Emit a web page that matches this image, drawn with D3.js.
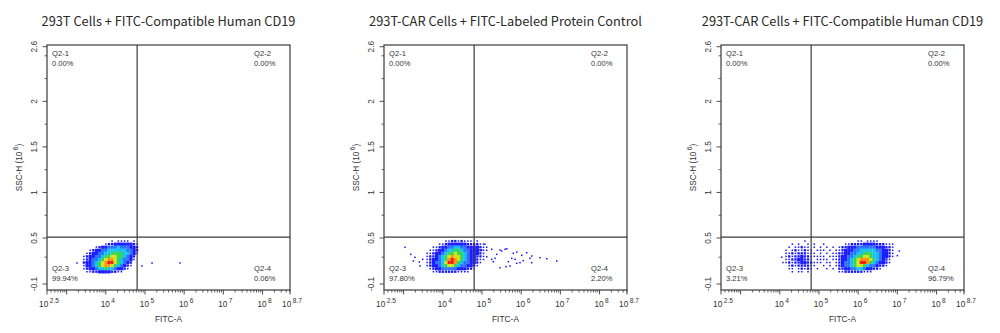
<!DOCTYPE html>
<html>
<head>
<meta charset="utf-8">
<script src="https://cdn.jsdelivr.net/npm/d3@7"></script>
<style>
  body { margin: 0; background: #fff; }
  svg { display: block; }
</style>
</head>
<body>
<svg id="chart" width="1000" height="333"></svg>
<script>
// ---- Sample titles and quadrant statistics ----
const panelTitles = [
  "293T Cells + FITC-Compatible Human CD19",
  "293T-CAR Cells + FITC-Labeled Protein Control",
  "293T-CAR Cells + FITC-Compatible Human CD19"
];
const quadNames = ["Q2-1", "Q2-2", "Q2-3", "Q2-4"];
const quadPercents = [
  ["0.00%", "0.00%", "99.94%", "0.06%"],
  ["0.00%", "0.00%", "97.80%", "2.20%"],
  ["0.00%", "0.00%", "3.21%", "96.79%"]
];

// ---- Axes ----
const xDomainExp = [2.5, 8.7];               // FITC-A, log10
const xTickExps = [2.5, 4, 5, 6, 7, 8, 8.7]; // labelled decades
const xUnlabelledExps = [3];
const yDomain = [-0.1, 0.5, 2.6];            // SSC-H (10^6)
const yTicks = [-0.1, 0.5, 1, 1.5, 2, 2.6];
const yMinorTicks = [0.25, 0.75, 1.25, 1.75, 2.25, 2.5];

// ---- Quadrant gate ----
const gateLogFITC = 4.8;
const gateSSC = 0.51;

// ---- Event density, binned: each row is an SSC bin (top to bottom),
//      each character a FITC bin (left to right), value = density level 0..9 ----
const binLogWidth = 0.08;
const binSSCHeight = 0.04;
const binOrigins = [ // [log10 FITC of first column, SSC at top of first row]
  [3.40, 0.48],
  [3.56, 0.48],
  [4.12, 0.48]
];
const density1 = [
  "000000000101111010",
  "000000012233333321",
  "000012334445444332",
  "001233445555554432",
  "012334455666655431",
  "123344566776654320",
  "123445678876544310",
  "233456789976543200",
  "133456788765432100",
  "123345565543321000",
  "011223333221100000"
];
const density2 = [
  "00000011221211101000",
  "00001123333332222110",
  "00112334455443333211",
  "01123345566544333211",
  "11233456676654333210",
  "12234567877654332210",
  "12334568987654332110",
  "12344579986544332100",
  "12334567765443321000",
  "01233444443332210000",
  "00112222221111000000"
];
const density3 = [
  "000000100000000000000001101111000000",
  "001010010100100000011222233332221110",
  "010112110101010101223334444443332210",
  "101211211011101011233344555554433210",
  "112122211101010112233445566655433210",
  "121223221111101112334456677655433210",
  "112233221011110112334567888765432100",
  "121223322111011012344567998654332100",
  "012122221100101012344567765443221000",
  "011012121010010102233445543322100000",
  "001011010000000001122222211100000000"
];
const densities = [density1, density2, density3];

// ---- Isolated events outside the binned populations: [log10 FITC, SSC] ----
const sparse1 = [
  [3.265, 0.174], [4.924, 0.135], [5.18, 0.174], [5.894, 0.174]
];
const sparse2 = [
  [3.036, 0.379], [3.181, 0.287], [3.291, 0.248], [3.401, 0.187], [3.487, 0.222],
  [3.248, 0.200], [3.419, 0.135],
  [5.077, 0.418], [5.248, 0.353], [5.503, 0.330], [5.631, 0.360], [5.886, 0.317],
  [6.014, 0.274], [6.141, 0.308], [6.269, 0.265], [6.481, 0.243], [6.652, 0.230],
  [6.907, 0.200], [5.460, 0.113], [5.715, 0.135], [5.970, 0.178], [5.248, 0.222],
  [5.376, 0.287], [5.121, 0.256], [5.843, 0.222], [6.269, 0.178], [4.993, 0.343],
  [5.332, 0.235], [5.460, 0.343], [5.588, 0.353], [5.672, 0.191], [5.759, 0.235],
  [5.799, 0.300], [5.886, 0.170], [6.054, 0.204], [6.225, 0.235], [5.289, 0.191],
  [5.613, 0.126]
];
const sparse3 = [
  [4.05, 0.25], [4.08, 0.18], [7.05, 0.33], [7.00, 0.27]
];
const sparseEvents = [sparse1, sparse2, sparse3];

// ---- Layout ----
const svg = d3.select("#chart");
const panelLefts = [47, 384, 721];
const plotTop = 45, plotW = 243, plotH = 245;
const axisFont = "'Liberation Sans', Arial, sans-serif";
const frameColor = "#3a3a3a";

const levelColors = {
  3: "#1c1cff", 4: "#2a72ff", 5: "#12c4f2", 6: "#36d45a",
  7: "#cfe61c", 8: "#ff9412", 9: "#ee2010"
};
const dotColor = "#1414ff";

const x = d3.scaleLog().domain(xDomainExp.map(e => Math.pow(10, e))).range([0, plotW]);
const y = d3.scaleLinear().domain(yDomain).range([239, 193, 1.7]);

panelTitles.forEach((title, p) => {
  const g = svg.append("g").attr("transform", `translate(${panelLefts[p]},${plotTop})`);

  // title
  svg.append("text")
    .attr("x", panelLefts[p] + plotW / 2)
    .attr("y", 26)
    .attr("text-anchor", "middle")
    .attr("font-family", "'Noto Sans CJK SC', 'Noto Sans', sans-serif")
    .attr("font-size", 12.8)
    .attr("fill", "#2a2a2a")
    .text(title);

  // binned events
  const [lx0, sTop] = binOrigins[p];
  const cells = [];
  densities[p].forEach((row, j) => {
    row.split("").forEach((ch, i) => {
      const lv = +ch;
      if (lv > 0) cells.push({
        lv,
        x0: x(Math.pow(10, lx0 + binLogWidth * i)),
        x1: x(Math.pow(10, lx0 + binLogWidth * (i + 1))),
        y0: y(sTop - binSSCHeight * j),
        y1: y(sTop - binSSCHeight * (j + 1))
      });
    });
  });
  const plotArea = g.append("g");
  // level 3+: bin filled with the colour of its density level
  plotArea.selectAll("rect.cell")
    .data(cells.filter(c => c.lv >= 3))
    .join("rect")
    .attr("class", "cell")
    .attr("x", c => c.x0).attr("y", c => c.y0)
    .attr("width", c => c.x1 - c.x0 + 0.15)
    .attr("height", c => c.y1 - c.y0 + 0.15)
    .attr("fill", c => levelColors[c.lv]);
  // levels 1-2: sparse bins drawn as single event dots
  plotArea.selectAll("rect.sparse-cell")
    .data(cells.filter(c => c.lv < 3))
    .join("rect")
    .attr("class", "sparse-cell")
    .attr("x", c => (c.x0 + c.x1) / 2 - (c.lv === 1 ? 0.75 : 1.15))
    .attr("y", c => (c.y0 + c.y1) / 2 - (c.lv === 1 ? 0.75 : 1.15))
    .attr("width", c => c.lv === 1 ? 1.5 : 2.3)
    .attr("height", c => c.lv === 1 ? 1.5 : 2.3)
    .attr("fill", dotColor);
  plotArea.selectAll("rect.event")
    .data(sparseEvents[p])
    .join("rect")
    .attr("class", "event")
    .attr("x", d => x(Math.pow(10, d[0])) - 0.75)
    .attr("y", d => y(d[1]) - 0.75)
    .attr("width", 1.5).attr("height", 1.5)
    .attr("fill", dotColor);

  // quadrant gate
  const gx = x(Math.pow(10, gateLogFITC));
  const gy = y(gateSSC);
  g.append("line").attr("x1", gx).attr("x2", gx).attr("y1", 0).attr("y2", plotH)
    .attr("stroke", frameColor).attr("stroke-width", 1.2);
  g.append("line").attr("x1", 0).attr("x2", plotW).attr("y1", gy).attr("y2", gy)
    .attr("stroke", frameColor).attr("stroke-width", 1.2);

  // frame
  g.append("rect").attr("x", 0).attr("y", 0).attr("width", plotW).attr("height", plotH)
    .attr("fill", "none").attr("stroke", frameColor).attr("stroke-width", 1.2);

  // quadrant labels
  const qPos = [
    { x: 5, y: 11 },
    { x: plotW - 36, y: 11 },
    { x: 5, y: 226 },
    { x: plotW - 36, y: 226 }
  ];
  qPos.forEach((q, k) => {
    const t = g.append("text")
      .attr("x", q.x).attr("y", q.y)
      .attr("font-family", axisFont).attr("font-size", 7.6).attr("fill", "#333");
    t.append("tspan").attr("x", q.x).text(quadNames[k]);
    t.append("tspan").attr("x", q.x).attr("dy", 9.5).text(quadPercents[p][k]);
  });

  // x axis ticks (log minor ticks + decades)
  const xAxis = g.append("g").attr("transform", `translate(0,${plotH})`);
  const minorVals = [];
  for (let e = 2; e <= 8; e++) {
    for (let m = 2; m <= 9; m++) {
      const v = m * Math.pow(10, e);
      if (v > x.domain()[0] && v < x.domain()[1]) minorVals.push(v);
    }
  }
  xAxis.selectAll("line.minor").data(minorVals).join("line")
    .attr("x1", d => x(d)).attr("x2", d => x(d)).attr("y1", 0).attr("y2", 2.5)
    .attr("stroke", frameColor).attr("stroke-width", 0.8);
  xAxis.selectAll("line.major").data(xTickExps.concat(xUnlabelledExps)).join("line")
    .attr("x1", d => x(Math.pow(10, d))).attr("x2", d => x(Math.pow(10, d)))
    .attr("y1", 0).attr("y2", 4.5)
    .attr("stroke", frameColor).attr("stroke-width", 0.9);
  xTickExps.forEach(e => {
    const t = xAxis.append("text")
      .attr("x", x(Math.pow(10, e)) + 2)
      .attr("y", 17)
      .attr("text-anchor", "middle")
      .attr("font-family", axisFont).attr("font-size", 8.2).attr("fill", "#333");
    t.append("tspan").text("10");
    t.append("tspan").attr("dx", 1.5).attr("dy", -4).attr("font-size", 6.6).text(String(e));
  });
  svg.append("text")
    .attr("x", panelLefts[p] + plotW / 2).attr("y", plotTop + plotH + 32)
    .attr("text-anchor", "middle")
    .attr("font-family", axisFont).attr("font-size", 8.4).attr("fill", "#333")
    .text("FITC-A");

  // y axis ticks
  const yAxis = g.append("g");
  yAxis.selectAll("line.major").data(yTicks).join("line")
    .attr("x1", -4.5).attr("x2", 0).attr("y1", d => y(d)).attr("y2", d => y(d))
    .attr("stroke", frameColor).attr("stroke-width", 0.9);
  yAxis.selectAll("line.minor").data(yMinorTicks).join("line")
    .attr("x1", -2.5).attr("x2", 0).attr("y1", d => y(d)).attr("y2", d => y(d))
    .attr("stroke", frameColor).attr("stroke-width", 0.8);
  yAxis.selectAll("text").data(yTicks).join("text")
    .attr("transform", d => `translate(-10,${y(d)}) rotate(-90)`)
    .attr("text-anchor", "middle")
    .attr("font-family", axisFont).attr("font-size", 8.2).attr("fill", "#333")
    .text(d => String(d));
  const yl = svg.append("text")
    .attr("transform", `translate(${panelLefts[p] - 25},${plotTop + plotH / 2}) rotate(-90)`)
    .attr("text-anchor", "middle")
    .attr("font-family", axisFont).attr("font-size", 8.2).attr("fill", "#333");
  yl.append("tspan").text("SSC-H (10");
  yl.append("tspan").attr("dx", 1.5).attr("dy", -4).attr("font-size", 6.6).text("6");
  yl.append("tspan").attr("dy", 4).text(")");
});
</script>
</body>
</html>
